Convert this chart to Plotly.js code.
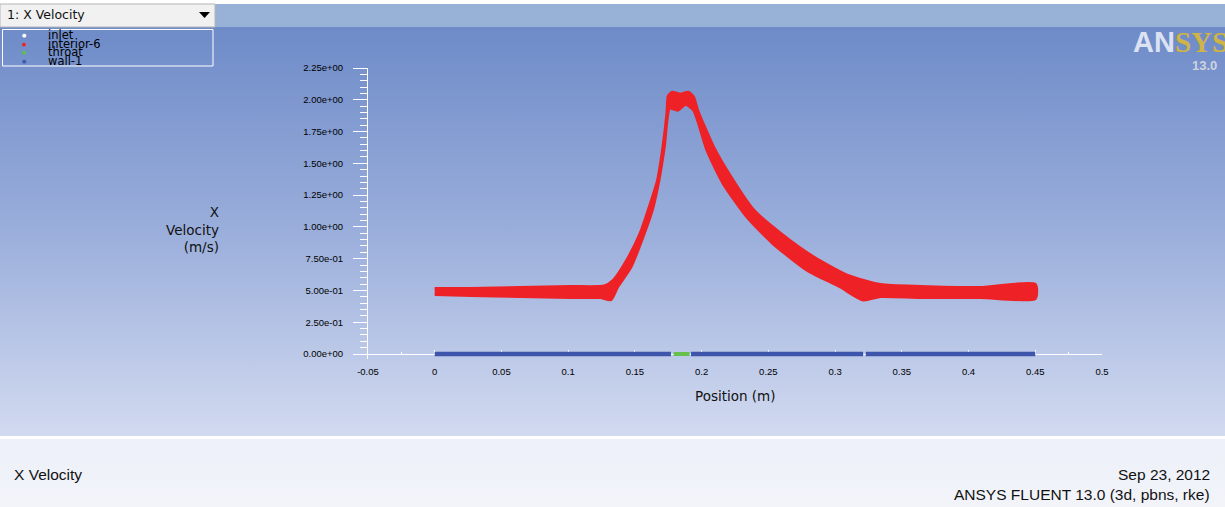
<!DOCTYPE html>
<html>
<head>
<meta charset="utf-8">
<script src="https://cdn.plot.ly/plotly-3.0.1.min.js"></script>
<style>
  html, body { margin: 0; padding: 0; }
  #chart {
    width: 1225px; height: 507px;
    background: linear-gradient(to bottom,
      #ffffff 0px, #ffffff 4px,
      #6e8bc8 27px, #9aaedb 230px, #d2daf0 436px,
      #ffffff 436px, #ffffff 439px,
      #eef0f9 439px, #f2f4fa 507px);
  }
</style>
</head>
<body>
<div id="chart"></div>
<script>
// ---- data ----
// interior-6 : upper and lower edges of the thick band of points
const interiorUpperX = [0, 0.027, 0.064, 0.102, 0.127, 0.134, 0.144, 0.154, 0.160, 0.167, 0.171, 0.174, 0.175, 0.178, 0.184, 0.190, 0.194, 0.197, 0.209, 0.222, 0.239, 0.259, 0.284, 0.309, 0.334, 0.364, 0.409, 0.450];
const interiorUpperY = [0.515, 0.515, 0.523, 0.531, 0.535, 0.582, 0.739, 0.951, 1.132, 1.368, 1.627, 1.895, 2.028, 2.060, 2.044, 2.060, 2.020, 1.918, 1.627, 1.392, 1.132, 0.951, 0.763, 0.621, 0.546, 0.531, 0.523, 0.549];
const interiorLowerX = [0, 0.027, 0.064, 0.102, 0.124, 0.132, 0.137, 0.147, 0.156, 0.163, 0.168, 0.172, 0.176, 0.182, 0.188, 0.194, 0.204, 0.216, 0.234, 0.253, 0.279, 0.304, 0.321, 0.334, 0.364, 0.409, 0.450];
const interiorLowerY = [0.468, 0.460, 0.452, 0.444, 0.444, 0.428, 0.527, 0.684, 0.920, 1.132, 1.368, 1.627, 1.934, 1.918, 1.965, 1.918, 1.604, 1.344, 1.077, 0.873, 0.660, 0.527, 0.425, 0.452, 0.444, 0.444, 0.436];
// wall-1 segments (y = 0) and throat segment
const wallX = [0, 0.177, null, 0.192, 0.321, null, 0.323, 0.450];
const wallY = [0, 0, null, 0, 0, null, 0, 0];
const throatX = [0.179, 0.191];
const throatY = [0, 0];
// axis ticks
const yTickVals = [0, 0.25, 0.5, 0.75, 1.0, 1.25, 1.5, 1.75, 2.0, 2.25];
const yTickText = ["0.00e+00", "2.50e-01", "5.00e-01", "7.50e-01", "1.00e+00", "1.25e+00", "1.50e+00", "1.75e+00", "2.00e+00", "2.25e+00"];
const yMinorVals = [0.05, 0.1, 0.15, 0.2, 0.3, 0.35, 0.4, 0.45, 0.55, 0.6, 0.65, 0.7, 0.8, 0.85, 0.9, 0.95, 1.05, 1.1, 1.15, 1.2, 1.3, 1.35, 1.4, 1.45, 1.55, 1.6, 1.65, 1.7, 1.8, 1.85, 1.9, 1.95, 2.05, 2.1, 2.15, 2.2];
const xTickVals = [-0.05, 0, 0.05, 0.1, 0.15, 0.2, 0.25, 0.3, 0.35, 0.4, 0.45, 0.5];
const xTickText = ["-0.05", "0", "0.05", "0.1", "0.15", "0.2", "0.25", "0.3", "0.35", "0.4", "0.45", "0.5"];
// legend entries
const legendNames = ["inlet", "interior-6", "throat", "wall-1"];
const legendColors = ["#ffffff", "#e8262b", "#5cc04a", "#4058b0"];

// ---- geometry helpers (pixel -> paper) ----
const W = 1225, H = 507;
const M = { l: 368, r: 123, t: 68, b: 148 };   // plot bottom 5px below the y=0 line
const PW = W - M.l - M.r, PH = H - M.t - M.b;
const px = x => (x - M.l) / PW;
const py = y => (H - M.b - y) / PH;
const YMAX = 2.25;
const pxPerUnit = (354 - 68) / YMAX;
const YMIN = -(H - M.b - 354) / pxPerUnit;       // so that y = 0 sits at pixel row 354
const zeroPos = (0 - YMIN) / (YMAX - YMIN);

const RED = "#ee2226";
const polyX = interiorUpperX.concat(interiorLowerX.slice().reverse());
const polyY = interiorUpperY.concat(interiorLowerY.slice().reverse());

const traces = [
  { x: polyX, y: polyY, type: "scatter", mode: "lines", fill: "toself",
    fillcolor: RED, line: { color: RED, width: 3, shape: "spline", smoothing: 0.6 }, hoverinfo: "skip", showlegend: false },
  { x: wallX, y: wallY, type: "scatter", mode: "lines",
    line: { color: "#3d56ab", width: 4.5 }, showlegend: false },
  { x: throatX, y: throatY, type: "scatter", mode: "lines",
    line: { color: "#66c04c", width: 4 }, showlegend: false }
];

const tickFont = { family: "Liberation Sans Narrow, Liberation Sans, Arial", size: 9.5, color: "#000" };
const uiFont = "DejaVu Sans, Verdana, sans-serif";
const footFont = "Liberation Sans Narrow, Liberation Sans, Arial";

const shapes = [
  { type: "rect", xref: "paper", yref: "paper", x0: px(215), x1: px(1225), y0: py(27), y1: py(4),
    fillcolor: "#98b1d6", line: { width: 0 }, layer: "below" },
  { type: "rect", xref: "paper", yref: "paper", x0: px(0), x1: px(215), y0: py(27), y1: py(4),
    fillcolor: "#f1f1f1", line: { color: "#b5b5b5", width: 1 }, layer: "below" },
  { type: "rect", xref: "paper", yref: "paper", x0: px(2.5), x1: px(213), y0: py(66), y1: py(29.5),
    fillcolor: "rgba(0,0,0,0)", line: { color: "#ffffff", width: 1 }, layer: "below" },
  { type: "path", xref: "paper", yref: "paper",
    path: `M ${px(199)} ${py(12)} L ${px(210)} ${py(12)} L ${px(204.5)} ${py(18)} Z`,
    fillcolor: "#000", line: { width: 0 } }
];

const annotations = [
  { text: "1: X Velocity", x: px(5), y: py(14), xref: "paper", yref: "paper", xanchor: "left", yanchor: "middle",
    showarrow: false, font: { family: uiFont, size: 12.5, color: "#111" } },
  { text: "X<br>Velocity<br>(m/s)", x: px(221), y: py(229), xref: "paper", yref: "paper", xanchor: "right", yanchor: "middle",
    align: "right", showarrow: false, font: { family: uiFont, size: 13.5, color: "#111" } },
  { text: "Position (m)", x: px(735), y: py(396), xref: "paper", yref: "paper", xanchor: "center", yanchor: "middle",
    showarrow: false, font: { family: uiFont, size: 13.5, color: "#111" } },
  { text: "X Velocity", x: px(12), y: py(474), xref: "paper", yref: "paper", xanchor: "left", yanchor: "middle",
    showarrow: false, font: { family: footFont, size: 15.5, color: "#111" } },
  { text: "Sep 23, 2012", x: px(1212), y: py(474), xref: "paper", yref: "paper", xanchor: "right", yanchor: "middle",
    showarrow: false, font: { family: footFont, size: 15.5, color: "#111" } },
  { text: "ANSYS FLUENT 13.0 (3d, pbns, rke)", x: px(1212), y: py(494), xref: "paper", yref: "paper", xanchor: "right", yanchor: "middle",
    showarrow: false, font: { family: footFont, size: 15.5, color: "#111" } },
  { text: '<b>AN</b><span style="font-family:Liberation Serif;font-weight:bold;fill:#cfb346">SYS</span>',
    x: px(1131), y: py(42), xref: "paper", yref: "paper", xanchor: "left", yanchor: "middle",
    showarrow: false, font: { family: "Liberation Sans", size: 29, color: "#dde2f3" } },
  { text: "<b>13.0</b>", x: px(1190), y: py(65), xref: "paper", yref: "paper", xanchor: "left", yanchor: "middle",
    showarrow: false, font: { family: "Liberation Sans", size: 13, color: "#cfd3df" } }
];

const legendY = [35, 43.5, 52, 60.5];
legendNames.forEach((name, i) => {
  annotations.push({ text: "●", x: px(24), y: py(legendY[i]), xref: "paper", yref: "paper",
    xanchor: "center", yanchor: "middle", showarrow: false,
    font: { family: "DejaVu Sans", size: 5, color: legendColors[i] } });
  annotations.push({ text: name, x: px(46), y: py(legendY[i]), xref: "paper", yref: "paper",
    xanchor: "left", yanchor: "middle", showarrow: false,
    font: { family: uiFont, size: 11.5, color: "#000" } });
});

const layout = {
  width: W, height: H,
  margin: M,
  paper_bgcolor: "rgba(0,0,0,0)",
  plot_bgcolor: "rgba(0,0,0,0)",
  showlegend: false,
  xaxis: {
    range: [-0.05, 0.5], showgrid: false, zeroline: false,
    anchor: "free", position: zeroPos, layer: "below traces",
    showline: true, linecolor: "#ffffff", linewidth: 1,
    ticks: "inside", ticklen: 4, tickcolor: "#ffffff", tickwidth: 1,
    tickvals: xTickVals, ticktext: xTickText, tickfont: tickFont, ticklabelstandoff: 9,
    minor: { dtick: 0.025, ticks: "inside", ticklen: 2, tickcolor: "#ffffff", showgrid: false }
  },
  yaxis: {
    range: [YMIN, YMAX], showgrid: false, zeroline: false, layer: "below traces",
    showline: true, linecolor: "#ffffff", linewidth: 1,
    ticks: "outside", ticklen: 14, tickcolor: "#ffffff", tickwidth: 1,
    tickvals: yTickVals, ticktext: yTickText, tickfont: tickFont, ticklabelstandoff: 8,
    minor: { tickvals: yMinorVals, ticks: "outside", ticklen: 7, tickcolor: "#ffffff", showgrid: false }
  },
  shapes: shapes,
  annotations: annotations
};

Plotly.newPlot("chart", traces, layout, { displayModeBar: false, staticPlot: true });
</script>
</body>
</html>
